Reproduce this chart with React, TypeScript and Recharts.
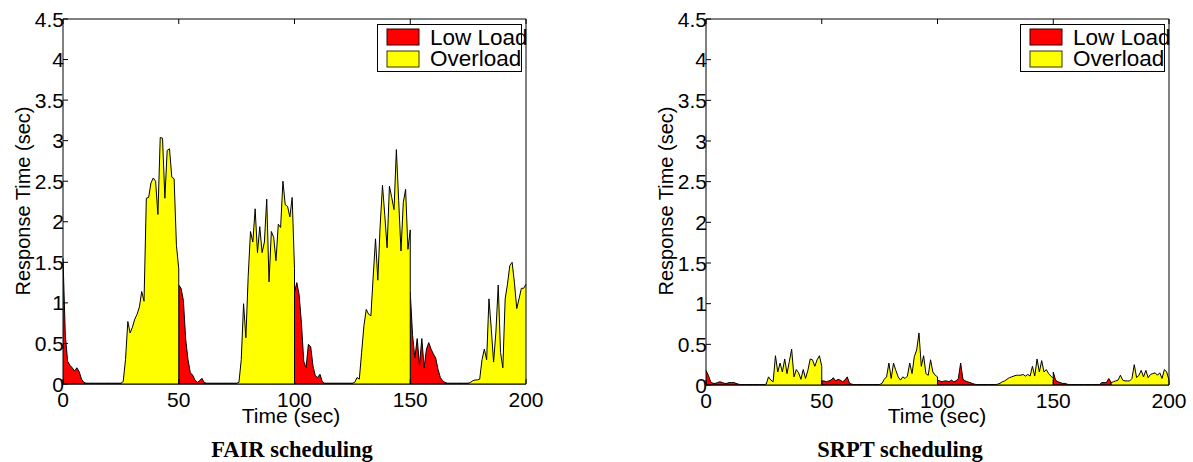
import React from "react";
import { AreaChart, Area, XAxis, YAxis } from "recharts";

const timeTicks = [0, 50, 100, 150, 200];
const responseTicks = [0, 0.5, 1, 1.5, 2, 2.5, 3, 3.5, 4, 4.5];
const seriesNames = ["Low Load", "Overload"];

// every inner list is one 25 s phase, sampled each second (t = start .. start+25)
// low load phases start at 0, 50, 100, 150; overload phases at 25, 75, 125, 175
const fairLowLoad = [
  [1.55, 0.6, 0.28, 0.23, 0.2, 0.16, 0.2, 0.15, 0.06, 0.02, 0.01, 0.01, 0.01, 0.01, 0.01, 0.01, 0.01, 0.01, 0.01, 0.01, 0.01, 0.01, 0.01, 0.01, 0.01, 0.01],
  [1.22, 1.18, 1.03, 0.55, 0.3, 0.14, 0.11, 0.05, 0.02, 0.04, 0.07, 0.02, 0.01, 0.01, 0.01, 0.01, 0.01, 0.01, 0.01, 0.01, 0.01, 0.01, 0.01, 0.01, 0.01, 0.01],
  [1.13, 1.25, 1.1, 0.75, 0.28, 0.2, 0.49, 0.46, 0.22, 0.1, 0.08, 0.12, 0.03, 0.01, 0.01, 0.01, 0.01, 0.01, 0.01, 0.01, 0.01, 0.01, 0.01, 0.01, 0.01, 0.01],
  [1.13, 0.6, 0.32, 0.56, 0.23, 0.56, 0.2, 0.43, 0.51, 0.43, 0.37, 0.32, 0.18, 0.08, 0.04, 0.02, 0.01, 0.01, 0.01, 0.01, 0.01, 0.01, 0.01, 0.01, 0.01, 0.01],
];
const fairOverload = [
  [0.01, 0.03, 0.3, 0.77, 0.63, 0.7, 0.8, 0.86, 0.95, 1.14, 1.02, 2.29, 2.3, 2.48, 2.54, 2.5, 2.09, 3.04, 3.03, 2.29, 2.88, 2.9, 2.55, 2.53, 1.71, 1.42],
  [0.01, 0.02, 0.3, 0.99, 0.57, 1.33, 1.88, 1.75, 2.16, 1.62, 1.94, 1.62, 1.75, 2.28, 1.26, 1.88, 1.81, 1.52, 1.97, 1.93, 2.5, 2.21, 2.19, 2.06, 2.3, 1.42],
  [0.01, 0.02, 0.08, 0.06, 0.39, 0.72, 0.92, 0.86, 0.84, 1.33, 1.79, 1.28, 1.95, 2.45, 2.08, 1.68, 2.44, 2.3, 2.15, 2.89, 2.26, 1.64, 2.24, 2.4, 1.66, 1.9],
  [0.01, 0.02, 0.04, 0.05, 0.05, 0.06, 0.3, 0.43, 0.3, 1.05, 0.68, 0.27, 0.64, 1.22, 0.39, 0.2, 1.05, 1.23, 1.46, 1.5, 1.25, 0.93, 1.05, 1.18, 1.18, 1.23],
];

const srptLowLoad = [
  [0.18, 0.12, 0.04, 0.02, 0.02, 0.03, 0.04, 0.03, 0.02, 0.02, 0.03, 0.03, 0.03, 0.02, 0.01, 0.005, 0.005, 0.005, 0.005, 0.005, 0.005, 0.005, 0.005, 0.005, 0.005, 0.005],
  [0.05, 0.05, 0.04, 0.05, 0.06, 0.09, 0.05, 0.07, 0.06, 0.04, 0.06, 0.1, 0.02, 0.01, 0.005, 0.005, 0.005, 0.005, 0.005, 0.005, 0.005, 0.005, 0.005, 0.005, 0.005, 0.005],
  [0.06, 0.05, 0.04, 0.05, 0.05, 0.04, 0.06, 0.04, 0.05, 0.08, 0.27, 0.07, 0.05, 0.04, 0.03, 0.02, 0.01, 0.005, 0.005, 0.005, 0.005, 0.005, 0.005, 0.005, 0.005, 0.005],
  [0.16, 0.06, 0.04, 0.03, 0.02, 0.02, 0.01, 0.005, 0.005, 0.005, 0.005, 0.005, 0.005, 0.005, 0.005, 0.005, 0.005, 0.005, 0.005, 0.005, 0.005, 0.03, 0.03, 0.03, 0.08, 0.03],
];
const srptOverload = [
  [0.005, 0.01, 0.1, 0.06, 0.04, 0.36, 0.16, 0.27, 0.16, 0.32, 0.14, 0.29, 0.44, 0.1, 0.19, 0.15, 0.07, 0.19, 0.08, 0.18, 0.32, 0.31, 0.23, 0.31, 0.36, 0.23],
  [0.005, 0.02, 0.07, 0.1, 0.27, 0.08, 0.27, 0.18, 0.1, 0.06, 0.1, 0.08, 0.11, 0.27, 0.14, 0.35, 0.43, 0.64, 0.23, 0.36, 0.14, 0.12, 0.31, 0.16, 0.12, 0.1],
  [0.005, 0.01, 0.02, 0.04, 0.05, 0.07, 0.09, 0.1, 0.11, 0.12, 0.12, 0.12, 0.13, 0.11, 0.13, 0.11, 0.23, 0.11, 0.32, 0.16, 0.3, 0.16, 0.19, 0.14, 0.11, 0.08],
  [0.03, 0.04, 0.05, 0.06, 0.12, 0.06, 0.05, 0.05, 0.05, 0.08, 0.25, 0.09, 0.12, 0.18, 0.1, 0.18, 0.09, 0.13, 0.14, 0.15, 0.12, 0.15, 0.08, 0.19, 0.16, 0.06],
];

type Row = { t: number; low: number; over: number };

// phases alternate low/over; boundary seconds appear twice so the fills switch with a vertical edge
function buildRows(low: number[][], over: number[][]): Row[] {
  const rows: Row[] = [];
  for (let k = 0; k < 8; k++) {
    const isLow = k % 2 === 0;
    const seg = isLow ? low[k >> 1] : over[k >> 1];
    seg.forEach((v, i) => {
      rows.push({ t: k * 25 + i, low: isLow ? v : 0, over: isLow ? 0 : v });
    });
  }
  return rows;
}

const sans = "'Liberation Sans', Arial, Helvetica, sans-serif";
const tickStyle = { fontFamily: sans, fontSize: 21 };

function BottomTick(props: any) {
  const { x, y, payload } = props;
  return (
    <g>
      <line x1={x} y1={y} x2={x} y2={y - 5} stroke="#000" />
      <text x={x} y={y + 23} textAnchor="middle" fill="#000" style={tickStyle}>
        {String(payload.value)}
      </text>
    </g>
  );
}

function TopTick(props: any) {
  const { x, y } = props;
  return <line x1={x} y1={y} x2={x} y2={y + 5} stroke="#000" />;
}

function LeftTick(props: any) {
  const { x, y, payload } = props;
  return (
    <g>
      <line x1={x} y1={y} x2={x + 5} y2={y} stroke="#000" />
      <text x={x + 1} y={y + 7.5} textAnchor="end" fill="#000" style={tickStyle}>
        {String(payload.value)}
      </text>
    </g>
  );
}

function RightTick(props: any) {
  const { x, y } = props;
  return <line x1={x} y1={y} x2={x - 5} y2={y} stroke="#000" />;
}

function Panel({ left, width, rows, axisH, marginRight }: { left: number; width: number; rows: Row[]; axisH: number; marginRight: number }) {
  return (
    <div style={{ position: "absolute", left, top: 0, width, height: 462 }}>
      <AreaChart width={width} height={462} data={rows} margin={{ top: 14, right: marginRight, bottom: 0, left: 0 }}>
        <XAxis
          xAxisId="top"
          orientation="top"
          type="number"
          dataKey="t"
          domain={[0, 200]}
          ticks={timeTicks}
          interval={0}
          height={5}
          tickSize={0}
          tickMargin={0}
          axisLine={{ stroke: "#000" }}
          tickLine={false}
          tick={TopTick}
        />
        <XAxis
          type="number"
          dataKey="t"
          domain={[0, 200]}
          ticks={timeTicks}
          interval={0}
          height={axisH}
          tickSize={0}
          tickMargin={0}
          axisLine={{ stroke: "#000" }}
          tickLine={false}
          tick={BottomTick}
        />
        <YAxis
          type="number"
          domain={[0, 4.5]}
          ticks={responseTicks}
          interval={0}
          width={63}
          tickSize={0}
          tickMargin={0}
          axisLine={{ stroke: "#000" }}
          tickLine={false}
          tick={LeftTick}
        />
        <YAxis
          yAxisId="right"
          orientation="right"
          type="number"
          domain={[0, 4.5]}
          ticks={responseTicks}
          interval={0}
          width={10}
          tickSize={0}
          tickMargin={0}
          axisLine={{ stroke: "#000" }}
          tickLine={false}
          tick={RightTick}
        />
        <Area
          type="linear"
          dataKey="low"
          name={seriesNames[0]}
          stroke="#000"
          strokeWidth={1}
          fill="#ff0000"
          fillOpacity={1}
          dot={false}
          activeDot={false}
          isAnimationActive={false}
        />
        <Area
          type="linear"
          dataKey="over"
          name={seriesNames[1]}
          stroke="#000"
          strokeWidth={1}
          fill="#ffff00"
          fillOpacity={1}
          dot={false}
          activeDot={false}
          isAnimationActive={false}
        />
      </AreaChart>
    </div>
  );
}

function LegendBox({ x }: { x: number }) {
  return (
    <g>
      <rect x={x + 0.5} y={24.5} width={144} height={47} fill="#fff" stroke="#000" />
      <rect x={x + 10} y={29} width={32} height={16} fill="#ff0000" stroke="#300" />
      <rect x={x + 10} y={51} width={32} height={16} fill="#ffff00" stroke="#330" />
      <text x={x + 53} y={44.5} fontFamily={sans} fontSize={22.5} fill="#000">{seriesNames[0]}</text>
      <text x={x + 53} y={65.5} fontFamily={sans} fontSize={22.5} fill="#000">{seriesNames[1]}</text>
    </g>
  );
}

export default function App() {
  const fairRows = buildRows(fairLowLoad, fairOverload);
  const srptRows = buildRows(srptLowLoad, srptOverload);
  const serif = "'Liberation Serif', 'Times New Roman', serif";
  return (
    <div style={{ position: "absolute", left: 0, top: 0, width: 1193, height: 462, overflow: "hidden", background: "#fff" }}>
      <Panel left={0} width={560} rows={fairRows} axisH={78} marginRight={24} />
      <Panel left={643} width={550} rows={srptRows} axisH={77} marginRight={14} />
      <svg width={1193} height={462} style={{ position: "absolute", left: 0, top: 0, pointerEvents: "none" }}>
        <LegendBox x={377} />
        <LegendBox x={1020} />
        <text x={291} y={423} textAnchor="middle" fontFamily={sans} fontSize={21} fill="#000">Time (sec)</text>
        <text x={937} y={423} textAnchor="middle" fontFamily={sans} fontSize={21} fill="#000">Time (sec)</text>
        <text x={30} y={201} transform="rotate(-90 30 201)" textAnchor="middle" fontFamily={sans} fontSize={20} fill="#000">Response Time (sec)</text>
        <text x={673} y={201} transform="rotate(-90 673 201)" textAnchor="middle" fontFamily={sans} fontSize={20} fill="#000">Response Time (sec)</text>
        <text x={292} y={457} textAnchor="middle" fontFamily={serif} fontWeight="bold" fontSize={22.5} fill="#000">FAIR scheduling</text>
        <text x={900} y={457} textAnchor="middle" fontFamily={serif} fontWeight="bold" fontSize={22.5} fill="#000">SRPT scheduling</text>
      </svg>
    </div>
  );
}
